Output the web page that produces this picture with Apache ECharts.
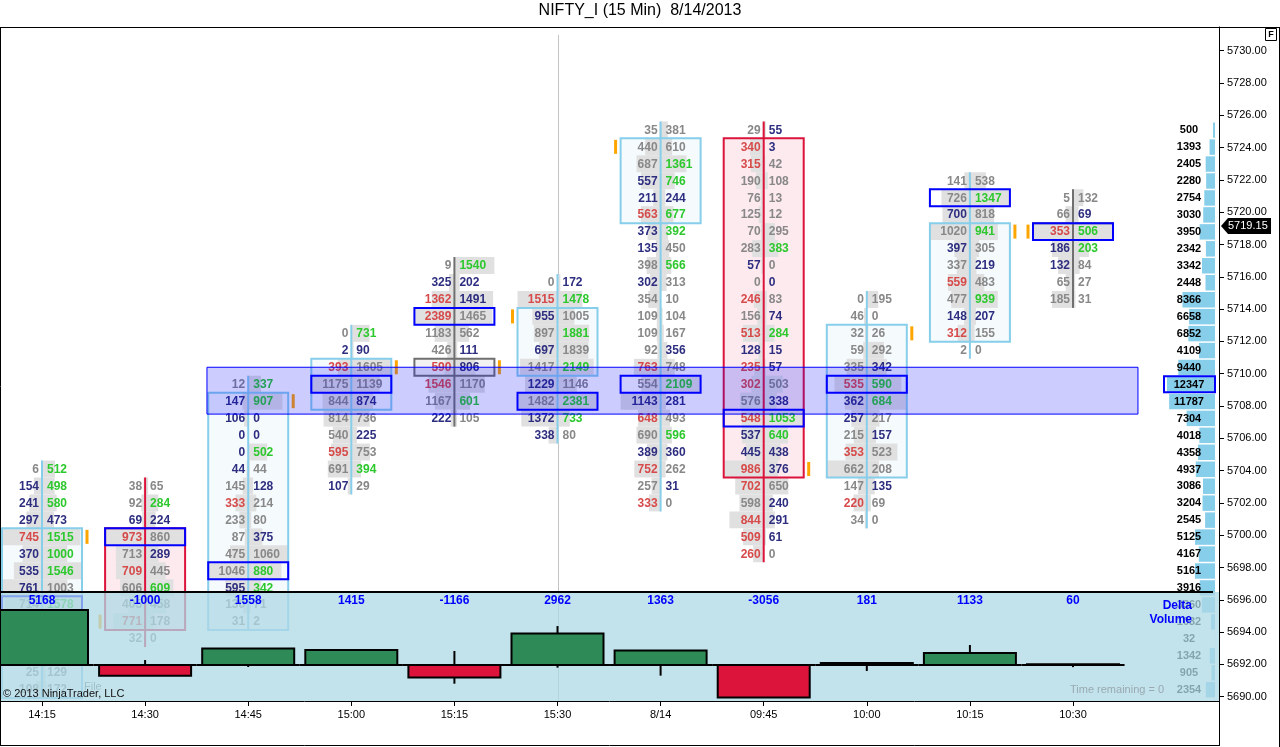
<!DOCTYPE html>
<html><head><meta charset="utf-8">
<script src="https://cdn.jsdelivr.net/npm/echarts@6/dist/echarts.min.js"></script>
<style>html,body{margin:0;padding:0;background:#fff}#chart{width:1280px;height:747px}</style>
</head><body><div id="chart"></div>
<script>
// ---------------- DATA ----------------
const timeLabels = ['14:15','14:30','14:45','15:00','15:15','15:30','8/14','09:45','10:00','10:15','10:30'];
const priceTicks = [5690,5692,5694,5696,5698,5700,5702,5704,5706,5708,5710,5712,5714,5716,5718,5720,5722,5724,5726,5728,5730];
const rowStep = 1.05;                       // footprint row height in price
const barHighs = [5704.1,5703.05,5709.35,5712.5,5716.7,5715.65,5725.1,5725.1,5714.6,5721.95,5720.9];
const bids = [
 [6,154,241,297,745,370,535,761,714,null,null,null,25,108],
 [38,92,69,973,713,709,606,405,771,32],
 [12,147,106,0,0,44,145,333,233,87,475,1046,595,130,31],
 [0,2,393,1175,844,814,540,595,691,107],
 [9,325,1362,2389,1183,426,590,1546,1167,222],
 [0,1515,955,897,697,1417,1229,1482,1372,338],
 [35,440,687,557,211,563,373,135,398,302,354,109,109,92,763,554,1143,648,690,389,752,257,333],
 [29,340,315,190,76,125,70,283,57,0,246,156,513,128,235,302,576,548,537,445,986,702,598,844,509,260],
 [0,46,32,59,335,535,362,257,215,353,662,147,220,34],
 [141,726,700,1020,397,337,559,477,148,312,2],
 [5,66,353,186,132,65,185]
];
const asks = [
 [512,498,580,473,1515,1000,1546,1003,1578,null,null,null,129,172],
 [65,284,224,860,289,445,609,458,178,0],
 [337,907,0,0,502,44,128,214,80,375,1060,880,342,71,2],
 [731,90,1605,1139,874,736,225,753,394,29],
 [1540,202,1491,1465,562,111,806,1170,601,105],
 [172,1478,1005,1881,1839,2149,1146,2381,733,80],
 [381,610,1361,746,244,677,392,450,566,313,10,104,167,356,748,2109,281,493,596,360,262,31,0],
 [55,3,42,108,13,12,295,383,0,0,83,74,284,15,57,503,338,1053,640,438,376,650,240,291,61,0],
 [195,0,26,292,342,590,684,217,157,523,208,135,69,0],
 [538,1347,818,941,305,219,483,939,207,155,0],
 [132,69,506,203,84,27,31]
];
// cell class per row (bid, ask): r = red, g = green, n = strong, s = plain
const tones = [
 'sg ng ng nn rg ng ng ns sg -- -- -- ss ss',
 'ss sg nn rs sn rs sg ss rs ss',
 'sg ng nn nn ng ns sn rs ss sn ss sg ng ss ss',
 'sg nn rs ss sn ss sn rs sg ns',
 'sg nn rn rs ss sn rn rs sg ns',
 'sn rg ns sg ns sg ns sg ng ns',
 'ss ss sg ng nn rg ng ns sg ns ss ss ss sn rs sg nn rs sg nn rs sn rs',
 'sn rn rs ss ss ss ss sg ns sn rs sn rg nn rn rs sn rg ng nn rn rs sn rn rn rs',
 'ss ss ss ss sn rg ng ns sn rs ss sn rs ss',
 'ss sg ns sg ns sn rs sg nn rs ss',
 'ss sn rg ng ns ss ss'
];
const bodyRows = [[4,13],[3,8],[1,14],[2,4],[6,6],[2,5],[1,5],[1,20],[2,10],[3,9],[2,2]];
const barDirection = ['up','down','up','up','flat','up','up','down','up','up','flat'];
const closeMarks = [[4,1],[8,-1],[1,1],[2,1],[6,1],[2,-1],[1,-1],[20,1],[2,1],[3,1],[2,-1]];
const profileTop = 5725.1;
const profileVolumes = [500,1393,2405,2280,2754,3030,3950,2342,3342,2448,8366,6658,6852,4109,9440,12347,11787,7304,4018,4358,4937,3086,3204,2545,5125,4167,5161,3916,3360,1032,32,1342,905,2354];
const lastPrice = 5719.15;
const zoneBars = [1.6, 10.63];
const zonePrices = [5707.5, 5710.4];
const deltaClose = [5168,-1000,1558,1415,-1166,2962,1363,-3056,181,1133,60];
const deltaHigh  = [5168,470,1558,1415,1316,3660,1363,0,181,1880,60];
const deltaLow   = [0,-1000,-190,0,-1757,-250,-1000,-3056,-560,0,-200];

// ---------------- HELPERS ----------------
const FF = "'Liberation Sans', Arial, Helvetica, sans-serif";
const CELL_FONT = 'bold 12px ' + FF;
const toneColor = {r:'#d64a4a', g:'#2dc82d', n:'#2e2e80', s:'#888888', '-':'#888888'};
const fillColor = {up:'#f5fafd', down:'#fdeaee', flat:'#f2f2f2'};
const lineColor = {up:'#87ceeb', down:'#dc143c', flat:'#707070'};
const maxBid = bids.map(c => Math.max(...c.filter(v => v != null)));
const maxAsk = asks.map(c => Math.max(...c.filter(v => v != null)));
const toneCodes = tones.map(t => t.split(' '));
const pocRow = bids.map((c, i) => {
  let best = -1, bi = 0;
  c.forEach((b, k) => { if (b == null) return; const t = b + asks[i][k]; if (t > best) { best = t; bi = k; } });
  return bi;
});
const rowPrice = (i, k) => barHighs[i] - k * rowStep;
const maxProfile = Math.max(...profileVolumes);

const cellData = [];
bids.forEach((col, i) => col.forEach((b, k) => { if (b != null) cellData.push([i, rowPrice(i, k), k]); }));
const barData = timeLabels.map((t, i) => [i, barHighs[i]]);

function renderCell(params, api) {
  const i = api.value(0), k = api.value(2);
  const p = api.coord([i, api.value(1)]);
  const h = api.size([0, rowStep])[1];
  const b = bids[i][k], a = asks[i][k];
  const code = toneCodes[i][k];
  const bw = 40 * b / maxBid[i], aw = 40 * a / maxAsk[i];
  return {type:'group', children:[
    {type:'rect', shape:{x:p[0]-bw, y:p[1]-h/2, width:bw, height:h}, style:{fill:'#e0e0e0'}},
    {type:'rect', shape:{x:p[0], y:p[1]-h/2, width:aw, height:h}, style:{fill:'#e0e0e0'}},
    {type:'text', x:p[0]-3, y:p[1]+0.5, style:{text:String(b), align:'right', verticalAlign:'middle', fill:toneColor[code[0]], font:CELL_FONT}},
    {type:'text', x:p[0]+5, y:p[1]+0.5, style:{text:String(a), align:'left', verticalAlign:'middle', fill:toneColor[code[1]], font:CELL_FONT}}
  ]};
}
function bodyBox(i, api) {
  const h = api.size([0, rowStep])[1];
  const cx = api.coord([i, barHighs[i]])[0];
  const yt = api.coord([i, rowPrice(i, bodyRows[i][0])])[1] - h/2;
  const yb = api.coord([i, rowPrice(i, bodyRows[i][1])])[1] + h/2;
  return {cx, yt, yb, h};
}
function renderBodyFill(params, api) {
  const i = api.value(0);
  const b = bodyBox(i, api);
  return {type:'rect', shape:{x:b.cx-40, y:b.yt, width:80, height:b.yb-b.yt}, style:{fill:fillColor[barDirection[i]]}};
}
function renderFrame(params, api) {
  const i = api.value(0);
  const b = bodyBox(i, api);
  const dir = barDirection[i];
  const wt = api.coord([i, rowPrice(i, 0)])[1] - b.h/2;
  const wb = api.coord([i, rowPrice(i, bids[i].length - 1)])[1] + b.h/2;
  const py = api.coord([i, rowPrice(i, pocRow[i])])[1];
  const my = api.coord([i, rowPrice(i, closeMarks[i][0])])[1];
  const mx = b.cx + 45 * closeMarks[i][1];
  return {type:'group', children:[
    {type:'line', shape:{x1:b.cx, y1:wt, x2:b.cx, y2:wb}, style:{stroke:lineColor[dir], lineWidth:2}},
    {type:'rect', shape:{x:b.cx-40, y:b.yt, width:80, height:b.yb-b.yt}, style:{fill:'none', stroke:lineColor[dir], lineWidth:2}},
    {type:'rect', shape:{x:b.cx-40, y:py-b.h/2, width:80, height:b.h}, style:{fill:'none', stroke:'#0000ff', lineWidth:2}},
    {type:'line', shape:{x1:mx, y1:my-7, x2:mx, y2:my+7}, style:{stroke:'#ffa500', lineWidth:3}}
  ]};
}
function renderProfile(params, api) {
  const cs = params.coordSys;
  const right = cs.x + cs.width - 4;
  const y = api.coord([0, api.value(1)])[1];
  const h = api.size([0, rowStep])[1];
  const v = api.value(2);
  const w = 48 * v / maxProfile;
  const ch = [
    {type:'rect', shape:{x:right-w, y:y-h/2+1, width:w, height:h-1.5}, style:{fill:'#87ceeb'}},
    {type:'text', x:right-26, y:y+0.5, style:{text:String(v), align:'center', verticalAlign:'middle', fill:'#000', font:'bold 11px ' + FF}}
  ];
  if (v === maxProfile) ch.push({type:'rect', shape:{x:right-51, y:y-h/2+0.5, width:51, height:h-1}, style:{fill:'none', stroke:'#0000ff', lineWidth:2}});
  return {type:'group', children:ch};
}
function renderTag(params, api) {
  const cs = params.coordSys;
  const x = cs.x + cs.width;
  const y = api.coord([0, api.value(1)])[1];
  return {type:'group', children:[
    {type:'polygon', shape:{points:[[x+2,y],[x+9,y-8],[x+52,y-8],[x+52,y+8],[x+9,y+8]]}, style:{fill:'#000'}},
    {type:'text', x:x+9, y:y+0.5, style:{text:api.value(1).toFixed(2), align:'left', verticalAlign:'middle', fill:'#fff', font:'11px ' + FF}}
  ]};
}
function renderZone(params, api) {
  const p1 = api.coord([api.value(0), api.value(3)]);
  const p2 = api.coord([api.value(1), api.value(2)]);
  return {type:'rect', shape:{x:p1[0], y:p1[1], width:p2[0]-p1[0], height:p2[1]-p1[1]}, style:{fill:'rgba(0,0,255,0.2)', stroke:'#0000ff', lineWidth:1}};
}
function renderGuide(params, api) {
  const cs = params.coordSys;
  const x = Math.round(api.coord([api.value(0), api.value(1)])[0]) + 0.5;
  return {type:'line', shape:{x1:x, y1:cs.y+8, x2:x, y2:cs.y+cs.height}, style:{stroke:'#c4c4c4', lineWidth:1}};
}
function renderPanel(params, api) {
  const cs = params.coordSys;
  return {type:'group', children:[
    {type:'rect', shape:{x:cs.x, y:cs.y, width:cs.width, height:cs.height}, style:{fill:'rgba(173,216,230,0.75)'}},
    {type:'line', shape:{x1:cs.x, y1:cs.y, x2:cs.x+cs.width-6, y2:cs.y}, style:{stroke:'#000', lineWidth:2}}
  ]};
}
function renderDelta(params, api) {
  const cs = params.coordSys;
  const i = api.value(0);
  const c = api.value(2);
  const cx = api.coord([i, 0])[0];
  const y0 = api.coord([i, 0])[1];
  const yc = api.coord([i, c])[1];
  const yl = api.coord([i, api.value(3)])[1];
  const yh = api.coord([i, api.value(4)])[1];
  return {type:'group', children:[
    {type:'line', shape:{x1:cx-51.55, y1:y0, x2:cx+51.55, y2:y0}, style:{stroke:'#000', lineWidth:2}},
    {type:'line', shape:{x1:cx, y1:yh, x2:cx, y2:yl}, style:{stroke:'#000', lineWidth:2}},
    {type:'rect', shape:{x:cx-46, y:Math.min(y0,yc), width:92, height:Math.abs(yc-y0)}, style:{fill:c >= 0 ? '#2e8b57' : '#dc143c', stroke:'#000', lineWidth:2}},
    {type:'text', x:cx, y:cs.y+8.5, style:{text:String(c), align:'center', verticalAlign:'middle', fill:'#0000ff', font:'bold 12px ' + FF}}
  ]};
}

// ---------------- CHART ----------------
const chart = echarts.init(document.getElementById('chart'), null, {renderer:'canvas', width:1280, height:747});
const xMin = -0.4074, xMax = 11.416;
const option = {
  animation: false,
  backgroundColor: '#fff',
  title: {text:'NIFTY_I (15 Min)  8/14/2013', left:'center', top:-2, textStyle:{fontSize:16, fontWeight:'normal', color:'#000', fontFamily:FF}},
  grid: [
    {left:0, right:61, top:27, bottom:46},
    {left:0, right:61, top:592, bottom:46}
  ],
  xAxis: [
    {type:'value', gridIndex:0, min:xMin, max:xMax,
     axisLine:{show:true, onZero:false, lineStyle:{color:'#000', width:1}},
     axisTick:{show:true, length:5, customValues:timeLabels.map((t,i)=>i), lineStyle:{color:'#000'}},
     axisLabel:{customValues:timeLabels.map((t,i)=>i), formatter:v => timeLabels[Math.round(v)], color:'#000', fontSize:11, fontFamily:FF, margin:8},
     splitLine:{show:false}},
    {type:'value', gridIndex:1, min:xMin, max:xMax, show:false}
  ],
  yAxis: [
    {type:'value', gridIndex:0, position:'right', min:5689.734, max:5731.47,
     axisLine:{show:true, onZero:false, lineStyle:{color:'#000', width:1}},
     axisTick:{show:true, length:5, customValues:priceTicks, lineStyle:{color:'#000'}},
     axisLabel:{customValues:priceTicks, formatter:v => Number(v).toFixed(2), color:'#000', fontSize:11, fontFamily:FF, margin:8},
     splitLine:{show:false}},
    {type:'value', gridIndex:1, min:-3383, max:6861, show:false}
  ],
  series: [
    {type:'custom', name:'guide', xAxisIndex:0, yAxisIndex:0, z:1, data:[[5, 5710]], encode:{x:0, y:1}, renderItem:renderGuide, clip:false},
    {type:'custom', name:'bodyFill', xAxisIndex:0, yAxisIndex:0, z:2, data:barData, encode:{x:0, y:1}, renderItem:renderBodyFill, clip:true},
    {type:'custom', name:'cells', xAxisIndex:0, yAxisIndex:0, z:3, data:cellData, encode:{x:0, y:1}, renderItem:renderCell, clip:true},
    {type:'custom', name:'frames', xAxisIndex:0, yAxisIndex:0, z:4, data:barData, encode:{x:0, y:1}, renderItem:renderFrame, clip:true},
    {type:'custom', name:'profile', xAxisIndex:0, yAxisIndex:0, z:4, data:profileVolumes.map((v,k)=>[11, profileTop - k*rowStep, v]), encode:{x:0, y:1}, renderItem:renderProfile, clip:false},
    {type:'custom', name:'zone', xAxisIndex:0, yAxisIndex:0, z:5, data:[[zoneBars[0], zoneBars[1], zonePrices[0], zonePrices[1]]], encode:{x:[0,1], y:[2,3]}, renderItem:renderZone, clip:true},
    {type:'custom', name:'last', xAxisIndex:0, yAxisIndex:0, z:5, data:[[11, lastPrice]], encode:{x:0, y:1}, renderItem:renderTag, clip:false},
    {type:'custom', name:'panel', xAxisIndex:1, yAxisIndex:1, z:6, data:[[0, 0]], encode:{x:0, y:1}, renderItem:renderPanel, clip:false},
    {type:'custom', name:'delta', xAxisIndex:1, yAxisIndex:1, z:7, data:deltaClose.map((d,i)=>[i, 0, d, deltaLow[i], deltaHigh[i]]), encode:{x:0, y:[1,2,3,4]}, renderItem:renderDelta, clip:true}
  ],
  graphic: [
    {type:'line', z:100, shape:{x1:0, y1:27.5, x2:1280, y2:27.5}, style:{stroke:'#000', lineWidth:1}},
    {type:'line', z:100, shape:{x1:0.5, y1:27, x2:0.5, y2:746}, style:{stroke:'#000', lineWidth:1}},
    {type:'line', z:100, shape:{x1:0, y1:745.5, x2:1219, y2:745.5}, style:{stroke:'#000', lineWidth:1}},
    {type:'line', z:100, shape:{x1:1219.5, y1:700, x2:1219.5, y2:746}, style:{stroke:'#000', lineWidth:1}},
    {type:'line', z:100, shape:{x1:1279.5, y1:27, x2:1279.5, y2:747}, style:{stroke:'#000', lineWidth:1}},
    {type:'rect', z:100, shape:{x:1265.5, y:28.5, width:11, height:12}, style:{fill:'#fff', stroke:'#000', lineWidth:1}},
    {type:'text', z:101, x:1271, y:35, style:{text:'F', align:'center', verticalAlign:'middle', fill:'#000', font:'bold 9px ' + FF}},
    {type:'text', z:100, x:1192, y:606, style:{text:'Delta', align:'right', verticalAlign:'middle', fill:'#0000ff', font:'bold 12px ' + FF}},
    {type:'text', z:100, x:1192, y:620, style:{text:'Volume', align:'right', verticalAlign:'middle', fill:'#0000ff', font:'bold 12px ' + FF}},
    {type:'text', z:100, x:3, y:694, style:{text:'\u00a9 2013 NinjaTrader, LLC', align:'left', verticalAlign:'middle', fill:'#111', font:'11px ' + FF}},
    {type:'text', z:5, x:84, y:687, style:{text:'File', align:'left', verticalAlign:'middle', fill:'#777', font:'11px ' + FF}},
    {type:'text', z:100, x:1070, y:690, style:{text:'Time remaining = 0', align:'left', verticalAlign:'middle', fill:'#9aa9b0', font:'11px ' + FF}}
  ]
};
chart.setOption(option);
</script>
</body></html>
